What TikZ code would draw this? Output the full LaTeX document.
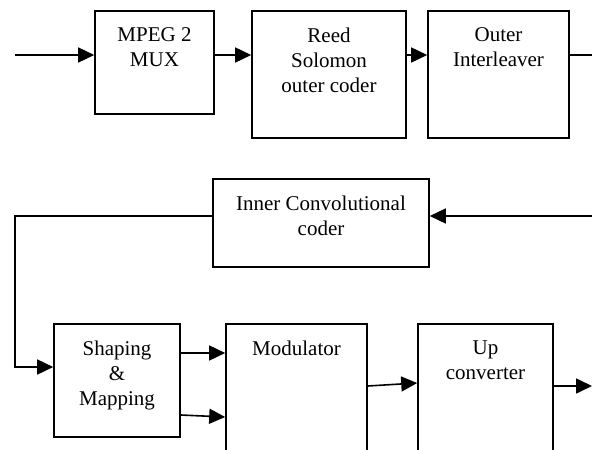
\documentclass[tikz,border=0pt]{standalone}
\usepackage{fontspec}
\setmainfont{Liberation Serif}
\usetikzlibrary{arrows.meta}
\usetikzlibrary{positioning}

\begin{document}
\begin{tikzpicture}[x=1pt,y=-1pt,line width=1.6pt,
	block/.style={draw, rectangle, inner sep=0pt},
	blocktext/.style={anchor=north, align=center, inner sep=0pt, yshift=-17pt,
		font=\fontsize{21}{25}\selectfont},
	arr/.style={-{Triangle[length=16pt,width=15pt]}}]
	\clip (0,0) rectangle (592,450);
	% upper chain
	\node[block, minimum width=119, minimum height=103, label={[blocktext]north:{MPEG 2\\MUX}}] (mux) at (154.5,62.5){};
	\node[block, minimum width=154, minimum height=127, label={[blocktext]north:{Reed\\Solomon\\outer coder}}] (rs) at (329,74.5){};
	\node[block, minimum width=141, minimum height=127, label={[blocktext]north:{Outer\\Interleaver}}] (oi) at (498.5,74.5){};
	% feedback block
	\node[block, minimum width=216, minimum height=88, label={[blocktext]north:{Inner Convolutional\\coder}}] (icc) at (321,223){};
	% lower chain
	\node[block, minimum width=126, minimum height=113, label={[blocktext]north:{Shaping\\\&\\Mapping}}] (sm) at (117,380.5){};
	\node[block, minimum width=141, minimum height=130, label={[blocktext]north:Modulator}] (mod) at (296.5,389){};
	\node[block, minimum width=135, minimum height=130, label={[blocktext]north:{Up\\converter}}] (up) at (485.5,389){};
	\coordinate (in) at (15,55);
	\coordinate (out) at (592,55);
	\coordinate (back) at (592,216);
	\coordinate (turn) at (15,216);
	\coordinate (fin) at (592,386);
	\draw[arr] (in) -- (in -| mux.west);
	\draw[arr] (in -| mux.east) -- (in -| rs.west);
	\draw[arr] (in -| rs.east) -- (in -| oi.west);
	\draw (in -| oi.east) -- (out);
	\draw[arr] (back) -- (back -| icc.east);
	\draw[arr] (back -| icc.west) -- (turn) |- (sm.west |- 0,367);
	\draw[arr] ([yshift=27.5pt]sm.east) -- ([yshift=27.5pt]sm.east -| mod.west);
	\draw[arr] ([yshift=-34.5pt]sm.east) -- ([yshift=-28pt]mod.west);
	\draw[arr] ([yshift=3pt]mod.east) -- ([yshift=6pt]up.west);
	\draw[arr] ([yshift=3pt]up.east) -- (fin);
\end{tikzpicture}
\end{document}
